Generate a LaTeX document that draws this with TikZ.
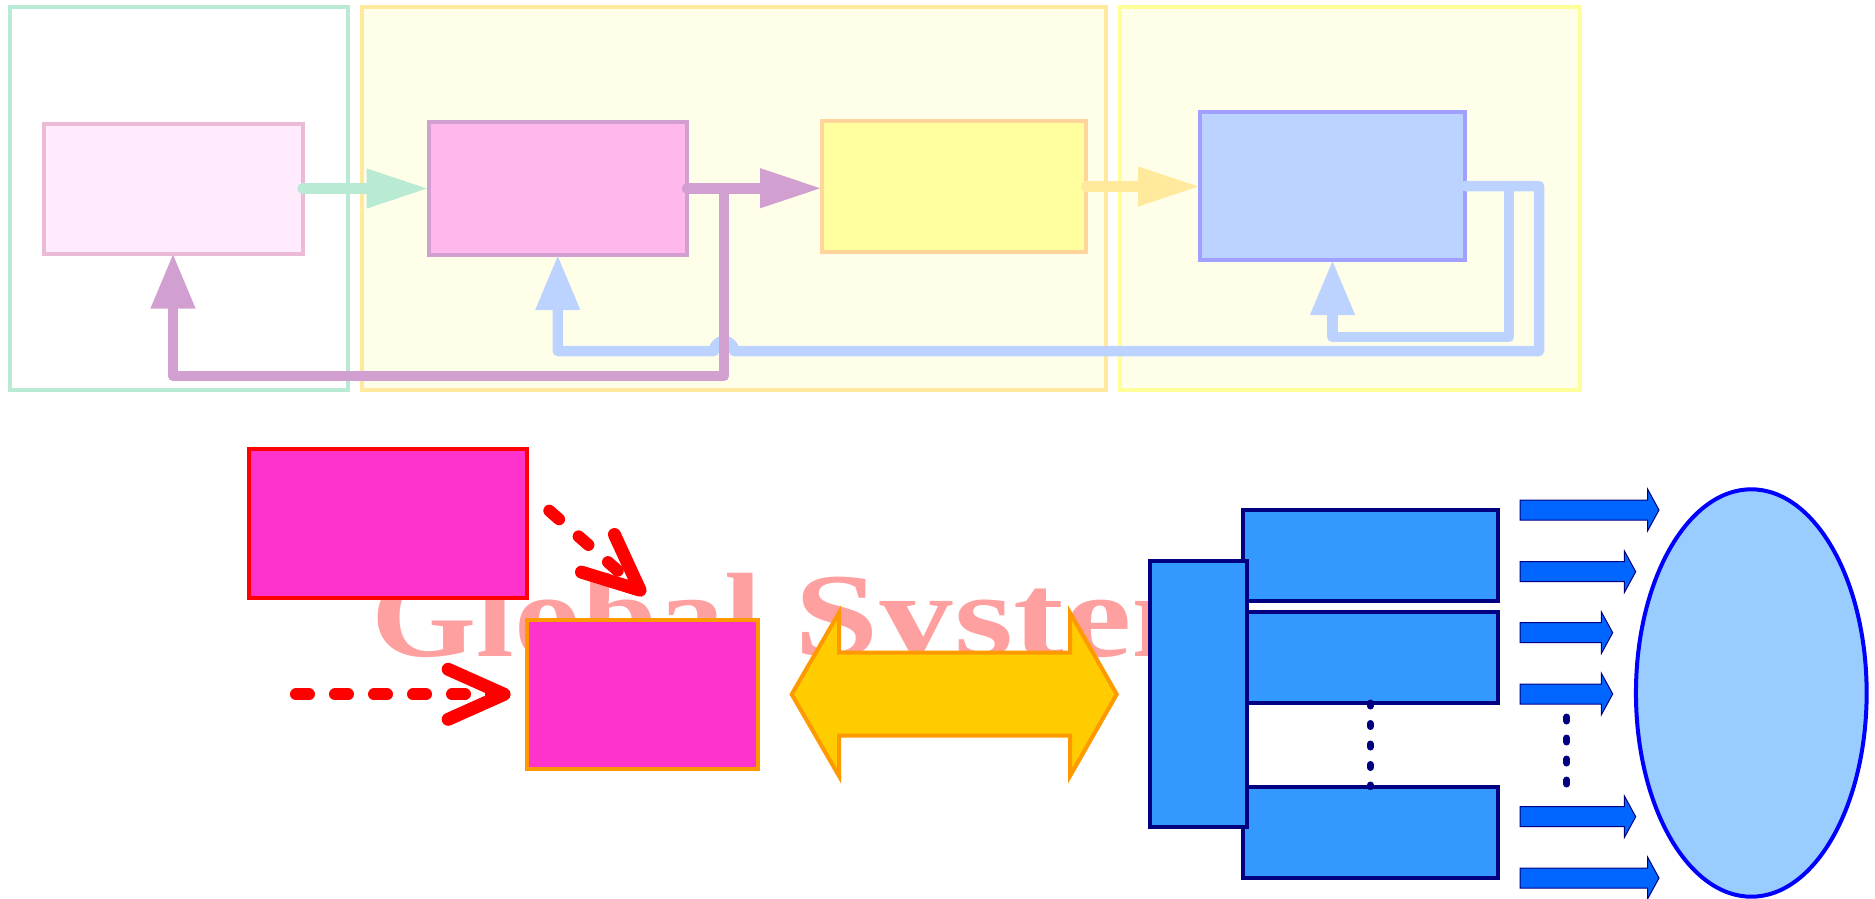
\documentclass[tikz,border=0pt]{standalone}
\usepackage{graphicx}
\usepackage{fontspec}
\setmainfont{Liberation Serif}
\usetikzlibrary{arrows.meta,shapes.geometric}

\definecolor{mint}{HTML}{B9EBD4}
\definecolor{sand}{HTML}{FFE99C}
\definecolor{lemon}{HTML}{FFFF99}
\definecolor{cream}{HTML}{FFFFE9}
\definecolor{blushfill}{HTML}{FFEBFC}
\definecolor{blushline}{HTML}{EBBBD6}
\definecolor{orchidfill}{HTML}{FFB7EC}
\definecolor{orchid}{HTML}{D2A0D0}
\definecolor{butter}{HTML}{FFFF9F}
\definecolor{apricot}{HTML}{FFD59B}
\definecolor{skyfill}{HTML}{BCD3FF}
\definecolor{periwinkle}{HTML}{A0A0FF}
\definecolor{magentafill}{HTML}{FF33CC}
\definecolor{amber}{HTML}{FF9900}
\definecolor{gold}{HTML}{FFCC00}
\definecolor{azure}{HTML}{3399FF}
\definecolor{navyline}{HTML}{000080}
\definecolor{royal}{HTML}{0066FF}
\definecolor{ovalfill}{HTML}{99CCFF}
\definecolor{salmon}{HTML}{FFA0A0}

\begin{document}
\begin{tikzpicture}[x=1pt,y=-1pt,
  box/.style={rectangle, inner sep=0pt, outer sep=0pt, anchor=north west, line width=4pt},
  flow/.style={line width=10.5pt, line cap=round, line join=round},
  hhead/.style={-{Triangle[length=62pt,width=37pt]}},
  vhead/.style={-{Triangle[length=55pt,width=42pt]}},
  reddash/.style={draw=red, line width=12pt, line cap=round,
    dash pattern=on 13pt off 26pt,
    -{Straight Barb[length=56pt,width=50pt,round,line width=13pt]}},
  navydots/.style={draw=navyline, line width=7pt, line cap=round, dash pattern=on 3pt off 17.5pt},
  bluebox/.style={box, draw=navyline, fill=azure},
  barrow/.style={fill=royal, draw=navyline, line width=1pt},
  dblarrow/.style={fill=gold, draw=amber, line width=4pt, line join=miter},
]
\useasboundingbox (0,0) rectangle (1875,898);

% ---- upper panel: three stage frames ----
\node[box, draw=mint, fill=white, minimum width=338.5pt, minimum height=383pt] (f1) at (9.5,6.5) {};
\node[box, draw=sand, fill=cream, minimum width=744.5pt, minimum height=383pt] (f2) at (361.5,6.5) {};
\node[box, draw=lemon, fill=cream, minimum width=460.5pt, minimum height=383pt] (f3) at (1119.5,6.5) {};

% ---- upper panel: process blocks ----
\node[box, draw=blushline, fill=blushfill, minimum width=259pt, minimum height=130pt] (A) at (43.5,123.5) {};
\node[box, draw=orchid, fill=orchidfill, minimum width=258.5pt, minimum height=133.5pt] (B) at (428.5,121.5) {};
\node[box, draw=apricot, fill=butter, minimum width=264pt, minimum height=131pt] (C) at (822,121) {};
\node[box, draw=periwinkle, fill=skyfill, minimum width=265pt, minimum height=148pt] (D) at (1200,112) {};

% ---- upper panel: feedback loops from D ----
\draw[flow, draw=skyfill, vhead] (D.east) -| (1509,337) -| (D.south);
\draw[flow, draw=skyfill, vhead] (D.east) -| (1539,351) -- (734,351)
  arc[start angle=0, end angle=-180, radius=10] -| (B.south);

% ---- upper panel: forward flow and feedback from B ----
\coordinate (J) at (724,188.25);
\draw[flow, draw=orchid, vhead] (J) -- (724,376) -| (A.south);
\draw[flow, draw=orchid, hhead] (B.east) -- (C.west |- B.east);
\draw[flow, draw=mint, hhead] (A.east) -- (B.west |- A.east);
\draw[flow, draw=sand, hhead] (C.east) -- (D.west |- C.east);

% ---- lower panel ----
\node[anchor=base west, inner sep=0pt, text=salmon,
  font=\bfseries\fontsize{120pt}{120pt}\selectfont] (title) at (371.4,656.7)
  {\scalebox{1.127}[1]{Global}\hspace{32pt}\scalebox{1.266}[1]{System}};

\node[box, draw=red, fill=magentafill, minimum width=278.3pt, minimum height=149.3pt] (m1) at (249,449) {};
\node[box, draw=amber, fill=magentafill, minimum width=231.7pt, minimum height=149.3pt] (m2) at (526.7,620) {};

\coordinate (r1s) at (296,694.3);
\draw[reddash, shorten >=16pt] (r1s) -- (m2.west |- r1s);
\coordinate (r2s) at (549.3,510.7);
\coordinate (r2e) at (645,594.5);
\draw[reddash] (r2s) -- (r2e);

% two-headed exchange arrow
\draw[dblarrow] (791.7,694.3) -- (839,612.7) -- (839,652.7) -- (1070,652.7) -- (1070,612.7)
  -- (1116.7,694.3) -- (1070,776) -- (1070,735.7) -- (839,735.7) -- (839,776) -- cycle;

% stacked blocks
\node[bluebox, minimum width=255.3pt, minimum height=91pt] (R1) at (1242.7,510) {};
\node[bluebox, minimum width=255.3pt, minimum height=90.7pt] (R2) at (1242.7,612.3) {};
\node[bluebox, minimum width=255.3pt, minimum height=91.3pt] (R3) at (1242.7,786.7) {};
\node[bluebox, minimum width=96.7pt, minimum height=266.3pt] (T) at (1150,560.7) {};
\draw[navydots] (R2.south) -- (R3.north);

% output arrows
\foreach \t/\y in {1659/510, 1635.7/571.7, 1612.7/632.7, 1612.7/694, 1635.7/816.7, 1659/878}{
  \filldraw[barrow] (1520,{\y-10}) -- ({\t-11.3},{\y-10}) -- ({\t-11.3},{\y-20.7}) -- (\t,\y)
    -- ({\t-11.3},{\y+20.7}) -- ({\t-11.3},{\y+10}) -- (1520,{\y+10}) -- cycle;
}
\coordinate (d1) at (1566.7,717);
\coordinate (d2) at (1566.7,784);
\draw[navydots, dash pattern=on 4pt off 17pt] (d1) -- (d2);

\node[ellipse, draw=blue, fill=ovalfill, line width=4pt, inner sep=0pt, outer sep=0pt,
  minimum width=230.7pt, minimum height=407.4pt] (oval) at (1751.3,693) {};
\end{tikzpicture}
\end{document}
